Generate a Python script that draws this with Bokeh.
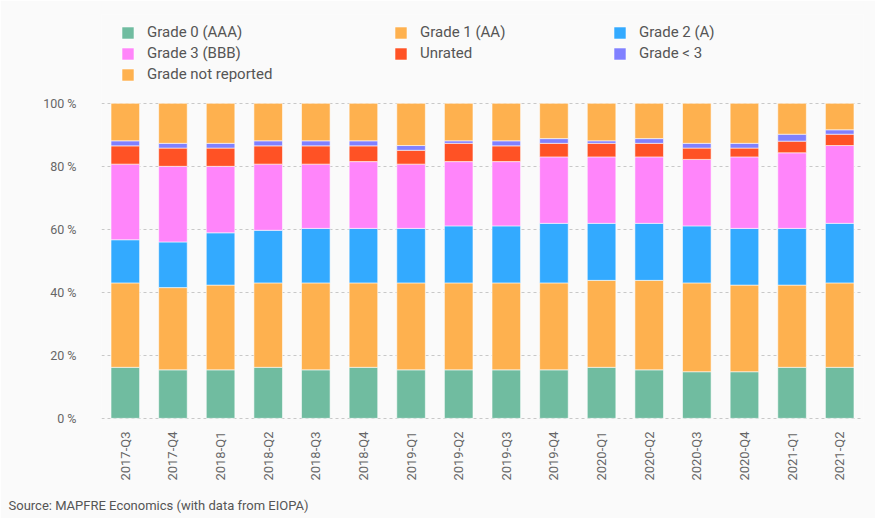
import math
from bokeh.plotting import figure
from bokeh.models import ColumnDataSource, Legend, LegendItem, Title, FixedTicker, Range1d, FactorRange
from bokeh.embed import file_html
from bokeh.resources import INLINE

quarters = ["2017-Q3", "2017-Q4", "2018-Q1", "2018-Q2", "2018-Q3", "2018-Q4",
            "2019-Q1", "2019-Q2", "2019-Q3", "2019-Q4", "2020-Q1", "2020-Q2",
            "2020-Q3", "2020-Q4", "2021-Q1", "2021-Q2"]

grade0 = [16.2, 15.4, 15.4, 16.2, 15.4, 16.2, 15.4, 15.4, 15.4, 15.4, 16.2, 15.4, 14.8, 14.8, 16.2, 16.2]
grade1 = [26.8, 26.1, 26.9, 26.8, 27.6, 26.8, 27.6, 27.6, 27.6, 27.6, 27.6, 28.4, 28.2, 27.5, 26.1, 26.8]
grade2 = [13.7, 14.5, 16.6, 16.7, 17.3, 17.3, 17.3, 18.1, 18.1, 18.9, 18.1, 18.1, 18.1, 18.0, 18.0, 18.9]
grade3 = [24.0, 24.0, 21.1, 21.0, 20.4, 21.2, 20.4, 20.4, 20.4, 21.1, 21.1, 21.1, 21.1, 22.7, 24.0, 24.7]
unrated = [5.8, 5.8, 5.8, 5.8, 5.8, 5.0, 4.4, 5.8, 5.0, 4.3, 4.3, 4.3, 3.6, 2.8, 3.7, 3.6]
grade_lt3 = [1.6, 1.5, 1.5, 1.6, 1.6, 1.6, 1.5, 0.8, 1.6, 1.5, 0.8, 1.5, 1.5, 1.5, 2.2, 1.4]
not_reported = [11.9, 12.7, 12.7, 11.9, 11.9, 11.9, 13.4, 11.9, 11.9, 11.2, 11.9, 11.2, 12.7, 12.7, 9.8, 8.4]

series_keys = ["g0", "g1", "g2", "g3", "un", "lt3", "nr"]
series_names = ["Grade 0 (AAA)", "Grade 1 (AA)", "Grade 2 (A)", "Grade 3 (BBB)",
                "Unrated", "Grade < 3", "Grade not reported"]
colors = ["#70bca0", "#feb14f", "#33aaff", "#ff85fa", "#ff5225", "#8080ff", "#feb14f"]
y_ticks = [0, 20, 40, 60, 80, 100]

source = ColumnDataSource(dict(q=quarters, g0=grade0, g1=grade1, g2=grade2, g3=grade3,
                               un=unrated, lt3=grade_lt3, nr=not_reported))

BG = "#fafafa"
FONT = "Roboto"

p = figure(frame_width=762, frame_height=407, x_range=FactorRange(*quarters), y_range=Range1d(-1, 128.2),
           output_backend="svg", toolbar_location=None,
           min_border_left=101, min_border_right=12, min_border_top=14, min_border_bottom=97)
p.background_fill_color = BG
p.border_fill_color = BG
p.outline_line_color = None

rs = p.vbar_stack(series_keys, x="q", width=0.6, source=source, color=colors,
                  line_color="white", line_width=0.8, line_alpha=0.7)

# axes
p.yaxis.ticker = FixedTicker(ticks=y_ticks)
p.yaxis.major_label_overrides = {t: f"{t} %" for t in y_ticks}
p.yaxis.axis_line_color = None
p.yaxis.major_tick_line_color = None
p.yaxis.minor_tick_line_color = None
p.yaxis.major_label_standoff = 19
p.yaxis.major_label_text_font = FONT
p.yaxis.major_label_text_font_size = "12.5px"
p.yaxis.major_label_text_color = "#666666"

p.xaxis.axis_line_color = None
p.xaxis.major_tick_line_color = None
p.xaxis.major_label_orientation = math.pi / 2
p.xaxis.major_label_standoff = 4
p.xaxis.major_label_text_font = FONT
p.xaxis.major_label_text_font_size = "13px"
p.xaxis.major_label_text_color = "#666666"
p.x_range.range_padding = 0
p.x_range.group_padding = 0

p.xgrid.grid_line_color = None
p.ygrid.ticker = FixedTicker(ticks=y_ticks)
p.ygrid.grid_line_color = "#c8c8c8"
p.ygrid.grid_line_dash = "3 3"
p.ygrid.grid_line_width = 1

# legend: three columns
cols = [[0, 3, 6], [1, 4], [2, 5]]
xs = [19, 292, 511]
for col, vx in zip(cols, xs):
    items = [LegendItem(label=series_names[i], renderers=[rs[i]]) for i in col]
    n = len(col)
    h = n * 18 + (n - 1) * 3
    top_from_frame_top = 9
    vy = 407 - top_from_frame_top - h
    leg = Legend(items=items, location=(vx, vy), orientation="vertical",
                 glyph_width=15, glyph_height=15, label_height=18, spacing=3,
                 label_standoff=12, padding=0, margin=0,
                 border_line_color=None, background_fill_alpha=0,
                 label_text_font=FONT, label_text_font_size="15px",
                 label_text_color="#555555")
    p.add_layout(leg, "center")

src = Title(text="Source: MAPFRE Economics (with data from EIOPA)", align="left",
            offset=-93, standoff=25, text_font=FONT, text_font_size="13px",
            text_font_style="normal", text_color="#555555")
p.add_layout(src, "below")

open("out.html", "w").write(file_html(p, INLINE))
